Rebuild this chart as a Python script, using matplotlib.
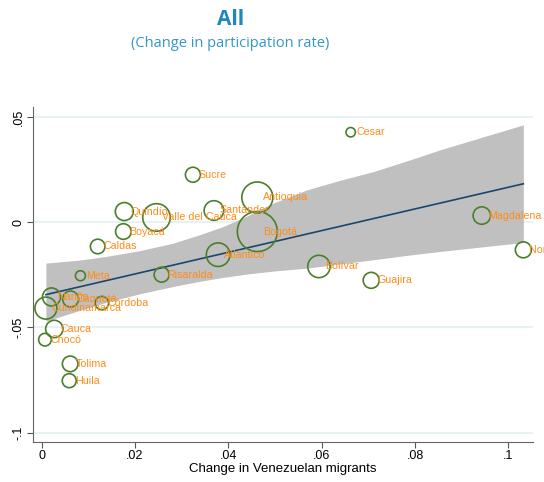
import matplotlib
matplotlib.use("Agg")
import matplotlib.pyplot as plt
import numpy as np

# departamentos: cambio en migrantes venezolanos vs cambio en tasa de participacion
dept = ["Cesar", "Sucre", "Quindío", "Valle del Cauca", "Santander", "Antioquia",
        "Bogotá", "Atlántico", "Boyacá", "Caldas", "Meta", "Risaralda", "Bolívar",
        "Guajira", "Magdalena", "Norte de Santander", "Nariño", "Caquetá", "Córdoba",
        "Cundinamarca", "Cauca", "Chocó", "Tolima", "Huila"]
mig = [0.0662, 0.0324, 0.0177, 0.0246, 0.0369, 0.0462, 0.0462, 0.0378, 0.0175, 0.0120,
       0.0083, 0.0257, 0.0594, 0.0706, 0.0943, 0.1032, 0.0021, 0.0062, 0.0129, 0.0009,
       0.0027, 0.0007, 0.0061, 0.0059]
part = [0.0428, 0.0226, 0.0051, 0.0023, 0.0056, 0.0118, -0.0044, -0.0154, -0.0044, -0.0115,
        -0.0254, -0.0249, -0.0210, -0.0276, 0.0032, -0.0131, -0.0355, -0.0365, -0.0384, -0.0408,
        -0.0507, -0.0558, -0.0673, -0.0753]
weight = [22, 56, 81, 190, 96, 240, 400, 139, 61, 53, 25, 56, 125, 64, 76, 64, 81, 64, 45,
          121, 75, 40, 61, 49]

# recta ajustada e intervalo de confianza
fit_x = [0.0009, 0.1032]
fit_y = [-0.0344, 0.0183]
ci_x = [0.0009, 0.0080, 0.0139, 0.0210, 0.0282, 0.0340, 0.0389, 0.0440, 0.0496,
        0.0568, 0.0640, 0.0711, 0.0780, 0.0853, 0.0940, 0.1032]
ci_hi = [-0.0194, -0.0180, -0.0162, -0.0135, -0.0099, -0.0058, -0.0020, 0.0030, 0.0091,
         0.0154, 0.0200, 0.0241, 0.0290, 0.0344, 0.0402, 0.0463]
ci_lo = [-0.0470, -0.0420, -0.0380, -0.0340, -0.0305, -0.0280, -0.0262, -0.0246, -0.0232,
         -0.0218, -0.0198, -0.0178, -0.0158, -0.0139, -0.0118, -0.0096]

xticks = [0, 0.02, 0.04, 0.06, 0.08, 0.1]
xticklabels = ["0", ".02", ".04", ".06", ".08", ".1"]
yticks = [0.05, 0, -0.05, -0.1]
yticklabels = [".05", "0", "-.05", "-.1"]

plt.rcParams['font.family'] = ['Liberation Sans', 'DejaVu Sans']

fig = plt.figure(figsize=(5.44, 4.82), dpi=100)
ax = fig.add_axes([0.0612, 0.0836, 0.918, 0.694])

for yt in yticks:
    ax.axhline(yt, color="#e3f0f3", lw=1.2, zorder=0)

ax.fill_between(ci_x, ci_lo, ci_hi, color="#c0c0c0", lw=0, zorder=1)
ax.plot(fit_x, fit_y, color="#1a476f", lw=1.2, zorder=2)

sizes = np.array(weight) * 2.07
ax.scatter(mig, part, s=sizes, facecolors="none", edgecolors="#4a7f2c",
           linewidths=1.2, zorder=3)
for name, x, y in zip(dept, mig, part):
    ax.annotate(name, (x, y), xytext=(4.3, 0), textcoords="offset points",
                va="center", ha="left", color="#ff8c1a", fontsize=7.7,
                zorder=4, annotation_clip=False)

ax.set_xlim(-0.0018, 0.1052)
ax.set_ylim(-0.1043, 0.0547)
ax.set_xticks(xticks)
ax.set_xticklabels(xticklabels, fontsize=9)
ax.set_yticks(yticks)
ax.set_yticklabels(yticklabels, fontsize=9, rotation=90, va="center")
ax.tick_params(colors="#555555", labelcolor="black", length=4, width=0.8, pad=2)
ax.spines["top"].set_visible(False)
ax.spines["right"].set_visible(False)
ax.spines["left"].set_color("#666666")
ax.spines["bottom"].set_color("#666666")
ax.set_xlabel("Change in Venezuelan migrants", fontsize=9.5, labelpad=1)

fig.text(0.423, 0.960, "All", ha="center", va="center", fontsize=15,
         fontweight="bold", color="#1e88be", family="Open Sans")
fig.text(0.423, 0.910, "(Change in participation rate)", ha="center", va="center",
         fontsize=10.5, color="#3398c9", family="Open Sans")

fig.savefig("out.png", dpi=100)
